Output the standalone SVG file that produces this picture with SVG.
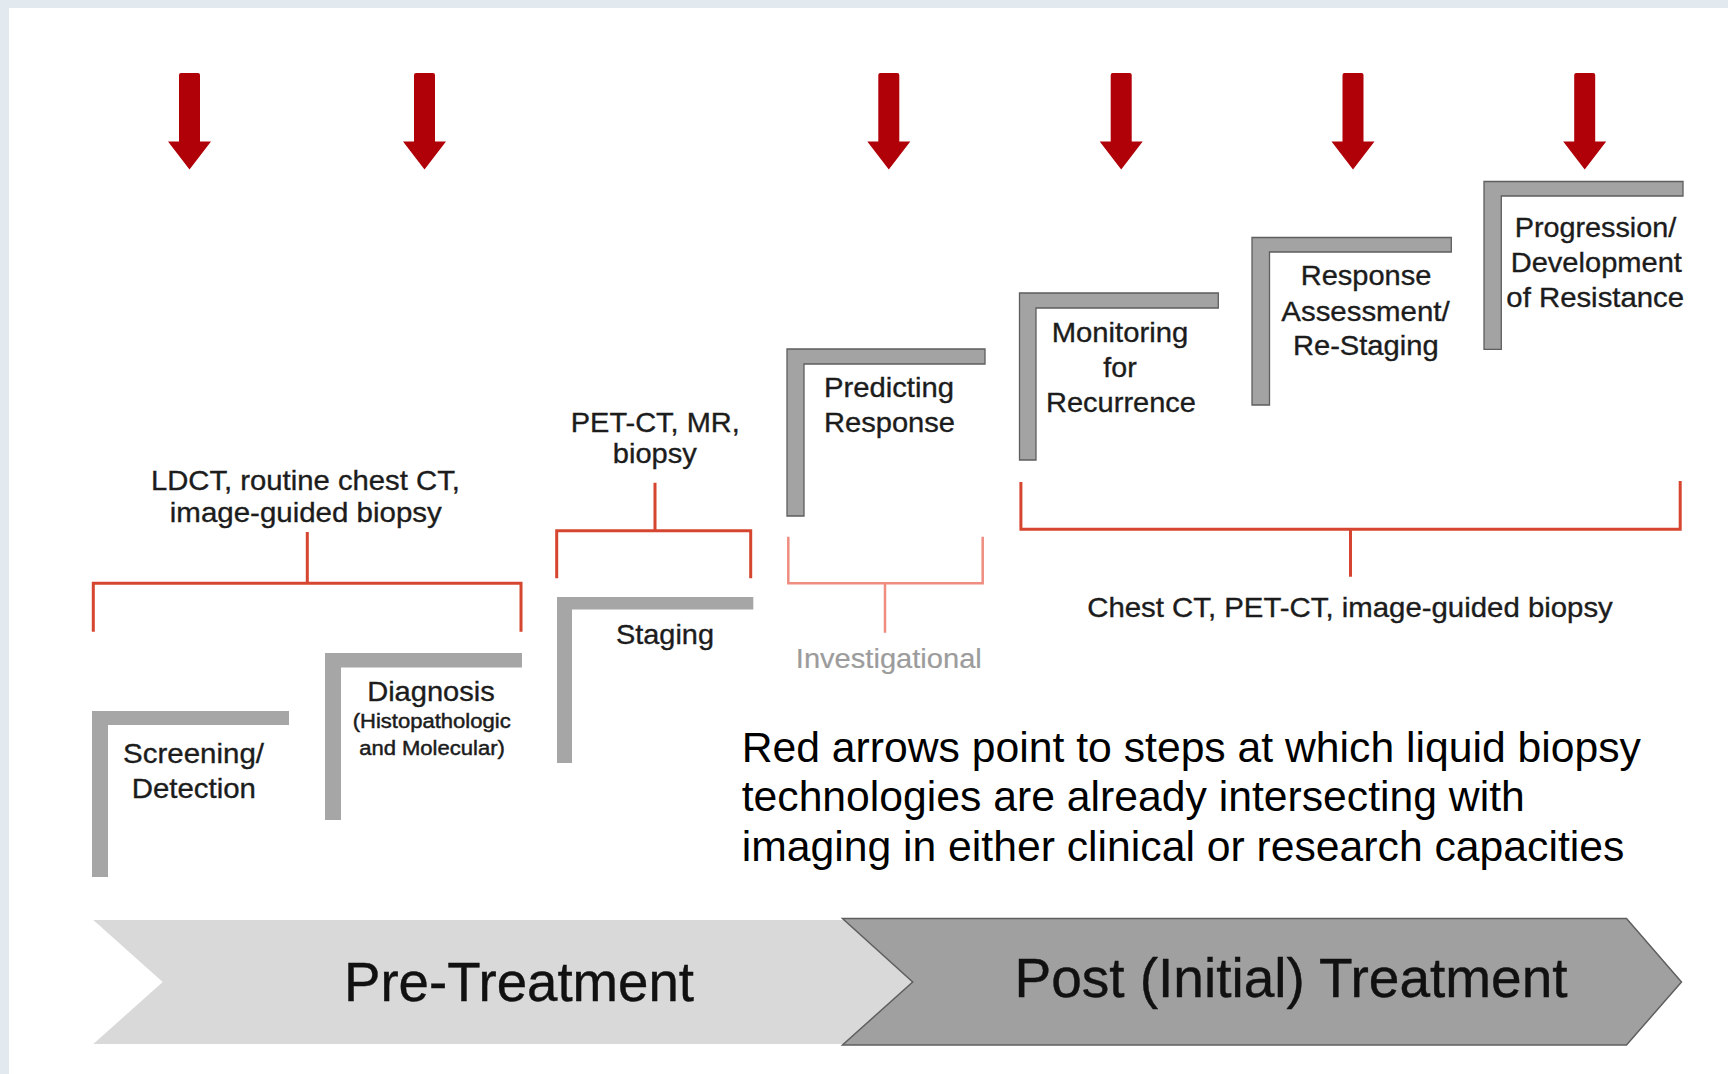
<svg xmlns="http://www.w3.org/2000/svg" xmlns:xlink="http://www.w3.org/1999/xlink" width="1728" height="1074" viewBox="0 0 1728 1074">
  <defs>
    <style>
      .lbl { font-family: "Liberation Sans", Arial, Helvetica, sans-serif; fill: #1c1c1c; text-anchor: middle; stroke: #1c1c1c; stroke-width: 0.35; }
      .step { font-size: 28px; }
      .small { font-size: 19.5px; stroke-width: 0.45; }
      .inv { font-size: 27.5px; fill: #9c9c9c; stroke: #9c9c9c; stroke-width: 0.2; }
      .note { font-family: "Liberation Sans", Arial, Helvetica, sans-serif; font-size: 42.7px; fill: #000; }
      .phase { font-size: 55px; fill: #111; stroke: #111; stroke-width: 0.4; }
      .bar-soft { fill: #a6a6a6; }
      .bar { fill: #a3a3a3; stroke: #5e5e5e; stroke-width: 1.3; }
      .br { fill: none; stroke: #d6452f; stroke-width: 3; }
      .br-light { fill: none; stroke: #ef8d80; stroke-width: 2.5; }
      .mark { fill: #b00008; }
    </style>
    <!-- downward marker arrow, centred on x = 0 -->
    <path id="down" d="M-10.5,75 Q-10.5,73 -8.5,73 H8.5 Q10.5,73 10.5,75 V141.5 H21.5 L0,169.5 L-21.5,141.5 H-10.5 Z"/>
  </defs>

  <!-- page frame -->
  <rect x="0" y="0" width="1728" height="1074" fill="#ffffff"/>
  <rect x="0" y="0" width="1728" height="8" fill="#e2eaf0"/>
  <rect x="0" y="0" width="9" height="1074" fill="#e2eaf0"/>

  <!-- liquid biopsy markers -->
  <g id="markers" class="mark">
    <use xlink:href="#down" x="189.5"/>
    <use xlink:href="#down" x="424.5"/>
    <use xlink:href="#down" x="888.8"/>
    <use xlink:href="#down" x="1121.2"/>
    <use xlink:href="#down" x="1353"/>
    <use xlink:href="#down" x="1584.7"/>
  </g>

  <!-- brackets linking imaging modalities to steps -->
  <g id="connectors">
    <path class="br" d="M307.3,532 V583.3 M93.3,631.7 V583.3 H521 V631.7"/>
    <path class="br" d="M655,482.7 V530.7 M556.7,578.3 V530.7 H750.7 V578.3"/>
    <path class="br-light" d="M788.3,536.7 V583.3 H982.7 V536.7 M885,583.3 V632.7"/>
    <path class="br" d="M1020.9,482 V529.3 H1680.2 V481 M1350.5,529.3 V576.7"/>
  </g>

  <!-- modality labels -->
  <g id="mod-pre" class="lbl step">
    <text x="305.4" y="490" textLength="309" lengthAdjust="spacingAndGlyphs">LDCT, routine chest CT,</text>
    <text x="305.8" y="522" textLength="272" lengthAdjust="spacingAndGlyphs">image-guided biopsy</text>
  </g>
  <g id="mod-staging" class="lbl step">
    <text x="655.3" y="432.3" textLength="169" lengthAdjust="spacingAndGlyphs">PET-CT, MR,</text>
    <text x="654.8" y="463.3" textLength="84" lengthAdjust="spacingAndGlyphs">biopsy</text>
  </g>
  <g id="mod-invest" class="lbl">
    <text class="inv" x="888.8" y="668.3" textLength="186" lengthAdjust="spacingAndGlyphs">Investigational</text>
  </g>
  <g id="mod-post" class="lbl step">
    <text x="1350" y="616.7" textLength="525.6" lengthAdjust="spacingAndGlyphs">Chest CT, PET-CT, image-guided biopsy</text>
  </g>

  <!-- clinical steps -->
  <g id="step-screening">
    <path class="bar-soft" d="M92,711 H289 V725 H108 V877 H92 Z"/>
    <text class="lbl step" x="193.5" y="762.7" textLength="141" lengthAdjust="spacingAndGlyphs">Screening/</text>
    <text class="lbl step" x="193.8" y="798.3" textLength="124.3" lengthAdjust="spacingAndGlyphs">Detection</text>
  </g>
  <g id="step-diagnosis">
    <path class="bar-soft" d="M325,653 H522 V667.5 H341 V820 H325 Z"/>
    <text class="lbl step" x="431" y="700.7" textLength="127.7" lengthAdjust="spacingAndGlyphs">Diagnosis</text>
    <text class="lbl small" x="431.7" y="728.3" textLength="158" lengthAdjust="spacingAndGlyphs">(Histopathologic</text>
    <text class="lbl small" x="432" y="755" textLength="145.7" lengthAdjust="spacingAndGlyphs">and Molecular)</text>
  </g>
  <g id="step-staging">
    <path class="bar-soft" d="M557,597 H753.3 V609.5 H572 V763 H557 Z"/>
    <text class="lbl step" x="665" y="644" textLength="98" lengthAdjust="spacingAndGlyphs">Staging</text>
  </g>
  <g id="step-predicting">
    <path class="bar" d="M787,349 H985 V364 H804 V516 H787 Z"/>
    <text class="lbl step" x="889" y="397" textLength="130" lengthAdjust="spacingAndGlyphs">Predicting</text>
    <text class="lbl step" x="889.5" y="432" textLength="131" lengthAdjust="spacingAndGlyphs">Response</text>
  </g>
  <g id="step-monitoring">
    <path class="bar" d="M1019.5,293 H1218.3 V308 H1036 V460 H1019.5 Z"/>
    <text class="lbl step" x="1120" y="341.7" textLength="136.6" lengthAdjust="spacingAndGlyphs">Monitoring</text>
    <text class="lbl step" x="1120" y="376.5" textLength="33.4" lengthAdjust="spacingAndGlyphs">for</text>
    <text class="lbl step" x="1121" y="411.7" textLength="150" lengthAdjust="spacingAndGlyphs">Recurrence</text>
  </g>
  <g id="step-response">
    <path class="bar" d="M1252,237.5 H1451.3 V252 H1269.5 V405 H1252 Z"/>
    <text class="lbl step" x="1366" y="285.3" textLength="130.6" lengthAdjust="spacingAndGlyphs">Response</text>
    <text class="lbl step" x="1365.5" y="320.5" textLength="168.4" lengthAdjust="spacingAndGlyphs">Assessment/</text>
    <text class="lbl step" x="1365.8" y="354.8" textLength="145.7" lengthAdjust="spacingAndGlyphs">Re-Staging</text>
  </g>
  <g id="step-progression">
    <path class="bar" d="M1484,181.5 H1683 V196 H1501.3 V349.3 H1484 Z"/>
    <text class="lbl step" x="1595.5" y="236.7" textLength="161.6" lengthAdjust="spacingAndGlyphs">Progression/</text>
    <text class="lbl step" x="1596.3" y="271.7" textLength="171.3" lengthAdjust="spacingAndGlyphs">Development</text>
    <text class="lbl step" x="1595.2" y="306.7" textLength="177.7" lengthAdjust="spacingAndGlyphs">of Resistance</text>
  </g>

  <!-- explanatory note -->
  <g id="note" class="note">
    <text x="741.7" y="761.7">Red arrows point to steps at which liquid biopsy</text>
    <text x="741.7" y="811">technologies are already intersecting with</text>
    <text x="741.7" y="861.3">imaging in either clinical or research capacities</text>
  </g>

  <!-- treatment phase chevrons -->
  <g id="phase-pre">
    <path d="M93.3,920 H850 L913,982 L850,1044 H93.3 L162.7,982 Z" fill="#d9d9d9"/>
    <text class="lbl phase" x="519" y="1000.7" textLength="350" lengthAdjust="spacingAndGlyphs">Pre-Treatment</text>
  </g>
  <g id="phase-post">
    <path d="M842.5,918.5 H1626.5 L1681.5,982 L1626.5,1045 H842.5 L912.7,982 Z" fill="#a0a0a0" stroke="#5f5f5f" stroke-width="1.5"/>
    <text class="lbl phase" x="1291" y="996.7" textLength="553" lengthAdjust="spacingAndGlyphs">Post (Initial) Treatment</text>
  </g>
</svg>
